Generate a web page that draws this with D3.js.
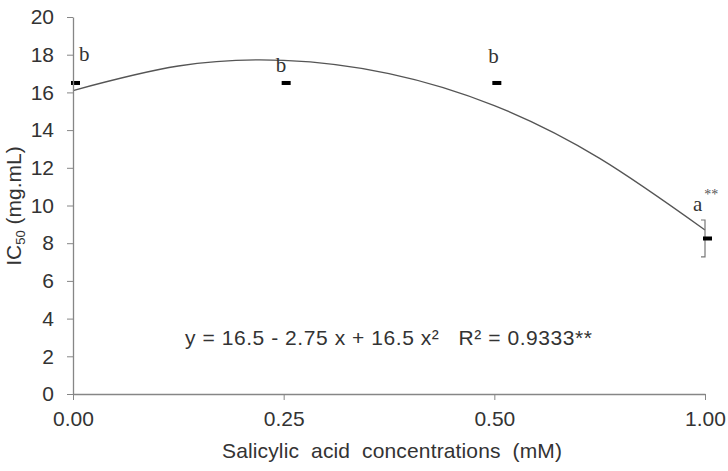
<!DOCTYPE html>
<html>
<head>
<meta charset="utf-8">
<script src="https://cdn.jsdelivr.net/npm/d3@7"></script>
<style>
  body { margin: 0; background: #fff; }
  svg { display: block; }
  .axis path, .axis line { stroke: #868686; }
  .axis text { font-family: "Liberation Sans", Arial, sans-serif; font-size: 21px; fill: #333; }
</style>
</head>
<body>
<div id="chart"></div>
<script>
  ///
  /// Data
  ///
  var categories = ["0.00", "0.25", "0.50", "1.00"];
  var ic50 = [16.5, 16.5, 16.5, 8.25];
  var errors = [0, 0, 0, 0.98];
  var letters = ["b", "b", "b", "a"];
  var stars = ["", "", "", "**"];
  // trendline at half-category steps
  var trendIdx = [0, 0.5, 1, 1.5, 2, 2.5, 3];
  var trendVal = [16.1, 17.4, 17.7, 17.0, 15.3, 12.5, 8.7];
  var yTicks = [0, 2, 4, 6, 8, 10, 12, 14, 16, 18, 20];

  // letter placement relative to each marker (hand placed in the original)
  var letterDx = [6, -8, -6, -12];
  var letterDy = [-22, -11, -20, -27];

  var width = 728, height = 471;
  var svg = d3.select("#chart").append("svg")
    .attr("width", width)
    .attr("height", height);

  var x = d3.scaleLinear().domain([0, categories.length - 1]).range([73, 705]);
  var y = d3.scaleLinear().domain([0, 20]).range([394, 17]);

  ///
  /// trendline
  ///
  var line = d3.line()
    .x(function(d, i) { return x(trendIdx[i]); })
    .y(function(d) { return y(d); })
    .curve(d3.curveNatural);

  svg.append("path")
    .datum(trendVal)
    .attr("d", line)
    .attr("fill", "none")
    .attr("stroke", "#555")
    .attr("stroke-width", 1.3);

  ///
  /// error bars (bracket style, caps to the left)
  ///
  ic50.forEach(function(v, i) {
    if (!errors[i]) return;
    var cx = x(i);
    var y0 = y(v + errors[i]), y1 = y(v - errors[i]);
    svg.append("path")
      .attr("d", "M" + (cx - 4) + "," + y0 + "H" + cx + "V" + y1 + "H" + (cx - 4))
      .attr("fill", "none")
      .attr("stroke", "#777")
      .attr("stroke-width", 1.2);
  });

  ///
  /// markers
  ///
  svg.selectAll("rect.mk")
    .data(ic50)
    .enter().append("rect")
    .attr("class", "mk")
    .attr("x", function(d, i) { return x(i) - 2; })
    .attr("y", function(d) { return y(d) - 2; })
    .attr("width", 9)
    .attr("height", 4)
    .attr("fill", "#000");

  ///
  /// axes
  ///
  var yAxis = d3.axisLeft(y)
    .tickValues(yTicks)
    .tickSize(6)
    .tickPadding(13)
    .tickSizeOuter(0);

  svg.append("g")
    .attr("class", "axis")
    .attr("transform", "translate(73,0)")
    .call(yAxis);

  var xAxis = d3.axisBottom(x)
    .tickValues(d3.range(categories.length))
    .tickFormat(function(d) { return categories[d]; })
    .tickSize(6)
    .tickPadding(11)
    .tickSizeOuter(0);

  svg.append("g")
    .attr("class", "axis")
    .attr("transform", "translate(0,394)")
    .call(xAxis);

  svg.selectAll(".axis path.domain").attr("stroke-width", 1.3);

  ///
  /// significance letters
  ///
  var lab = svg.selectAll("text.lt")
    .data(letters)
    .enter().append("text")
    .attr("class", "lt")
    .attr("x", function(d, i) { return x(i) + letterDx[i]; })
    .attr("y", function(d, i) { return y(ic50[i]) + letterDy[i]; })
    .style("font-family", "'Liberation Serif', 'Times New Roman', serif")
    .style("font-size", "21px")
    .attr("fill", "#333");
  lab.append("tspan").text(function(d) { return d; });
  lab.append("tspan")
    .attr("dx", 2)
    .attr("dy", -12)
    .style("font-size", "14px")
    .style("fill", "#555")
    .text(function(d, i) { return stars[i]; });

  ///
  /// equation
  ///
  svg.append("text")
    .attr("x", 185)
    .attr("y", 345)
    .attr("textLength", 407)
    .style("font-family", "'Liberation Sans', Arial, sans-serif")
    .style("font-size", "21px")
    .attr("fill", "#333")
    .attr("xml:space", "preserve")
    .text("y = 16.5 - 2.75 x + 16.5 x\u00b2   R\u00b2 = 0.9333**");

  ///
  /// axis titles
  ///
  svg.append("text")
    .attr("x", 392)
    .attr("y", 458)
    .attr("text-anchor", "middle")
    .attr("textLength", 340)
    .style("font-family", "'Liberation Sans', Arial, sans-serif")
    .style("font-size", "21px")
    .attr("fill", "#333")
    .attr("xml:space", "preserve")
    .text("Salicylic  acid  concentrations  (mM)");

  var yt = svg.append("text")
    .attr("transform", "translate(21,206) rotate(-90)")
    .attr("text-anchor", "middle")
    .style("font-family", "'Liberation Sans', Arial, sans-serif")
    .style("font-size", "21px")
    .attr("fill", "#333");
  yt.append("tspan").text("IC");
  yt.append("tspan").attr("dy", 4).style("font-size", "13px").text("50");
  yt.append("tspan").attr("dy", -4).text(" (mg.mL)");
</script>
</body>
</html>
